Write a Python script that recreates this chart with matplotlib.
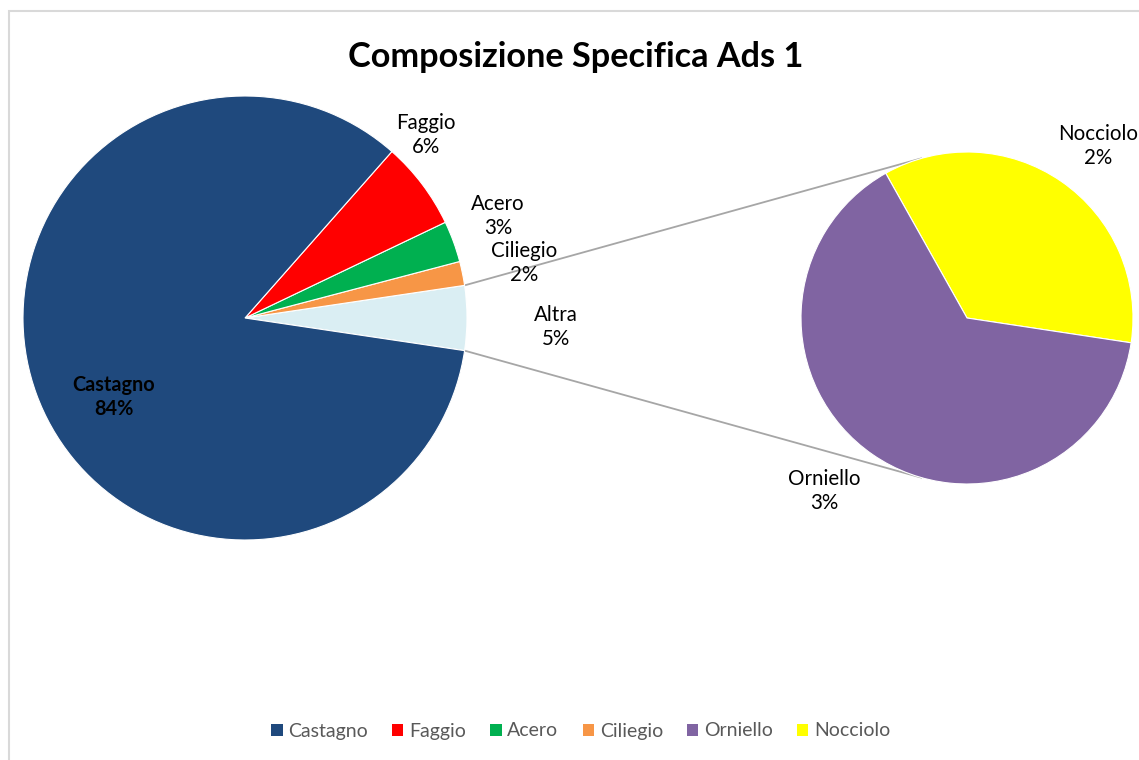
import numpy as np
import matplotlib.pyplot as plt
from matplotlib.patches import Patch, Rectangle

plt.rcParams['font.family'] = ['Lato', 'DejaVu Sans']

# Data
main_labels = ['Castagno', 'Faggio', 'Acero', 'Ciliegio']
main_values = [84.2, 6.4, 3.0, 1.75]
other_labels = ['Orniello', 'Nocciolo']
other_values = [3.03, 1.67]
altra_label = 'Altra'

colors = {'Castagno': '#1F497D', 'Faggio': '#FF0000', 'Acero': '#00B050',
          'Ciliegio': '#F79646', 'Orniello': '#8064A2', 'Nocciolo': '#FFFF00',
          'Altra': '#DAEEF3'}

total = sum(main_values) + sum(other_values)
altra = sum(other_values)

W, H = 1139, 760
fig = plt.figure(figsize=(W / 100, H / 100), dpi=100)
ax = fig.add_axes([0, 0, 1, 1])
ax.axis('off')

# chart area frame
ax.add_patch(Rectangle((9, -20), W + 40, H - 11 + 20, fill=False,
                       edgecolor='#D9D9D9', linewidth=1.5))

# main pie: Altra centred on the right, the rest counter-clockwise
c1, r1 = (245, H - 318), 222
order = [altra_label, 'Ciliegio', 'Acero', 'Faggio', 'Castagno']
vals = [altra] + main_values[::-1]
a_half = altra / total * 360 / 2
ax.pie(vals, colors=[colors[k] for k in order], startangle=-a_half,
       counterclock=True, center=c1, radius=r1, normalize=True,
       wedgeprops=dict(edgecolor='white', linewidth=0.8))

# secondary pie with the split of Altra
c2, r2 = (967, H - 318), 166
sec_order = ['Nocciolo', 'Orniello']
sec_vals = [other_values[1], other_values[0]]
ax.pie(sec_vals, colors=[colors[k] for k in sec_order], startangle=-8.6,
       counterclock=True, center=c2, radius=r2, normalize=True,
       wedgeprops=dict(edgecolor='white', linewidth=0.8))

ax.set_xlim(0, W)
ax.set_ylim(0, H)
ax.set_aspect('equal')

# connector lines
for s in (1, -1):
    t1 = np.radians(s * a_half)
    t2 = np.radians(s * 106)
    ax.plot([c1[0] + r1 * np.cos(t1), c2[0] + r2 * np.cos(t2)],
            [c1[1] + r1 * np.sin(t1), c2[1] + r2 * np.sin(t2)],
            color='#A6A6A6', linewidth=1.3, zorder=0.5)

# data labels
def pct(v):
    return f'{round(v / total * 100):.0f}%'

lab_pos = {'Faggio': (426, 135), 'Acero': (498, 216), 'Ciliegio': (524, 263),
           'Altra': (556, 327), 'Nocciolo': (1098, 146), 'Orniello': (824, 491)}
all_vals = dict(zip(main_labels + other_labels, main_values + other_values))
all_vals['Altra'] = altra
for k, (px, py) in lab_pos.items():
    ax.text(px, H - py, f'{k}\n{pct(all_vals[k])}', ha='center', va='center',
            fontsize=14.8, color='black', linespacing=1.2)
ax.text(114, H - 397, f'Castagno\n{pct(all_vals["Castagno"])}', ha='center',
        va='center', fontsize=14.3, fontweight='bold', color='black',
        linespacing=1.2)

ax.text(576, H - 57, 'Composizione Specifica Ads 1', ha='center', va='center',
        fontsize=24.7, fontweight='bold', color='black')

leg_names = main_labels + other_labels
handles = [Patch(facecolor=colors[k], edgecolor='none') for k in leg_names]
fig.legend(handles, leg_names, loc='center', bbox_to_anchor=(581 / W, 1 - 731 / H),
           ncol=6, frameon=False, fontsize=14, labelcolor='#595959',
           handlelength=0.57, handleheight=0.57, handletextpad=0.3,
           columnspacing=1.25)

fig.savefig('out.png', dpi=100)
